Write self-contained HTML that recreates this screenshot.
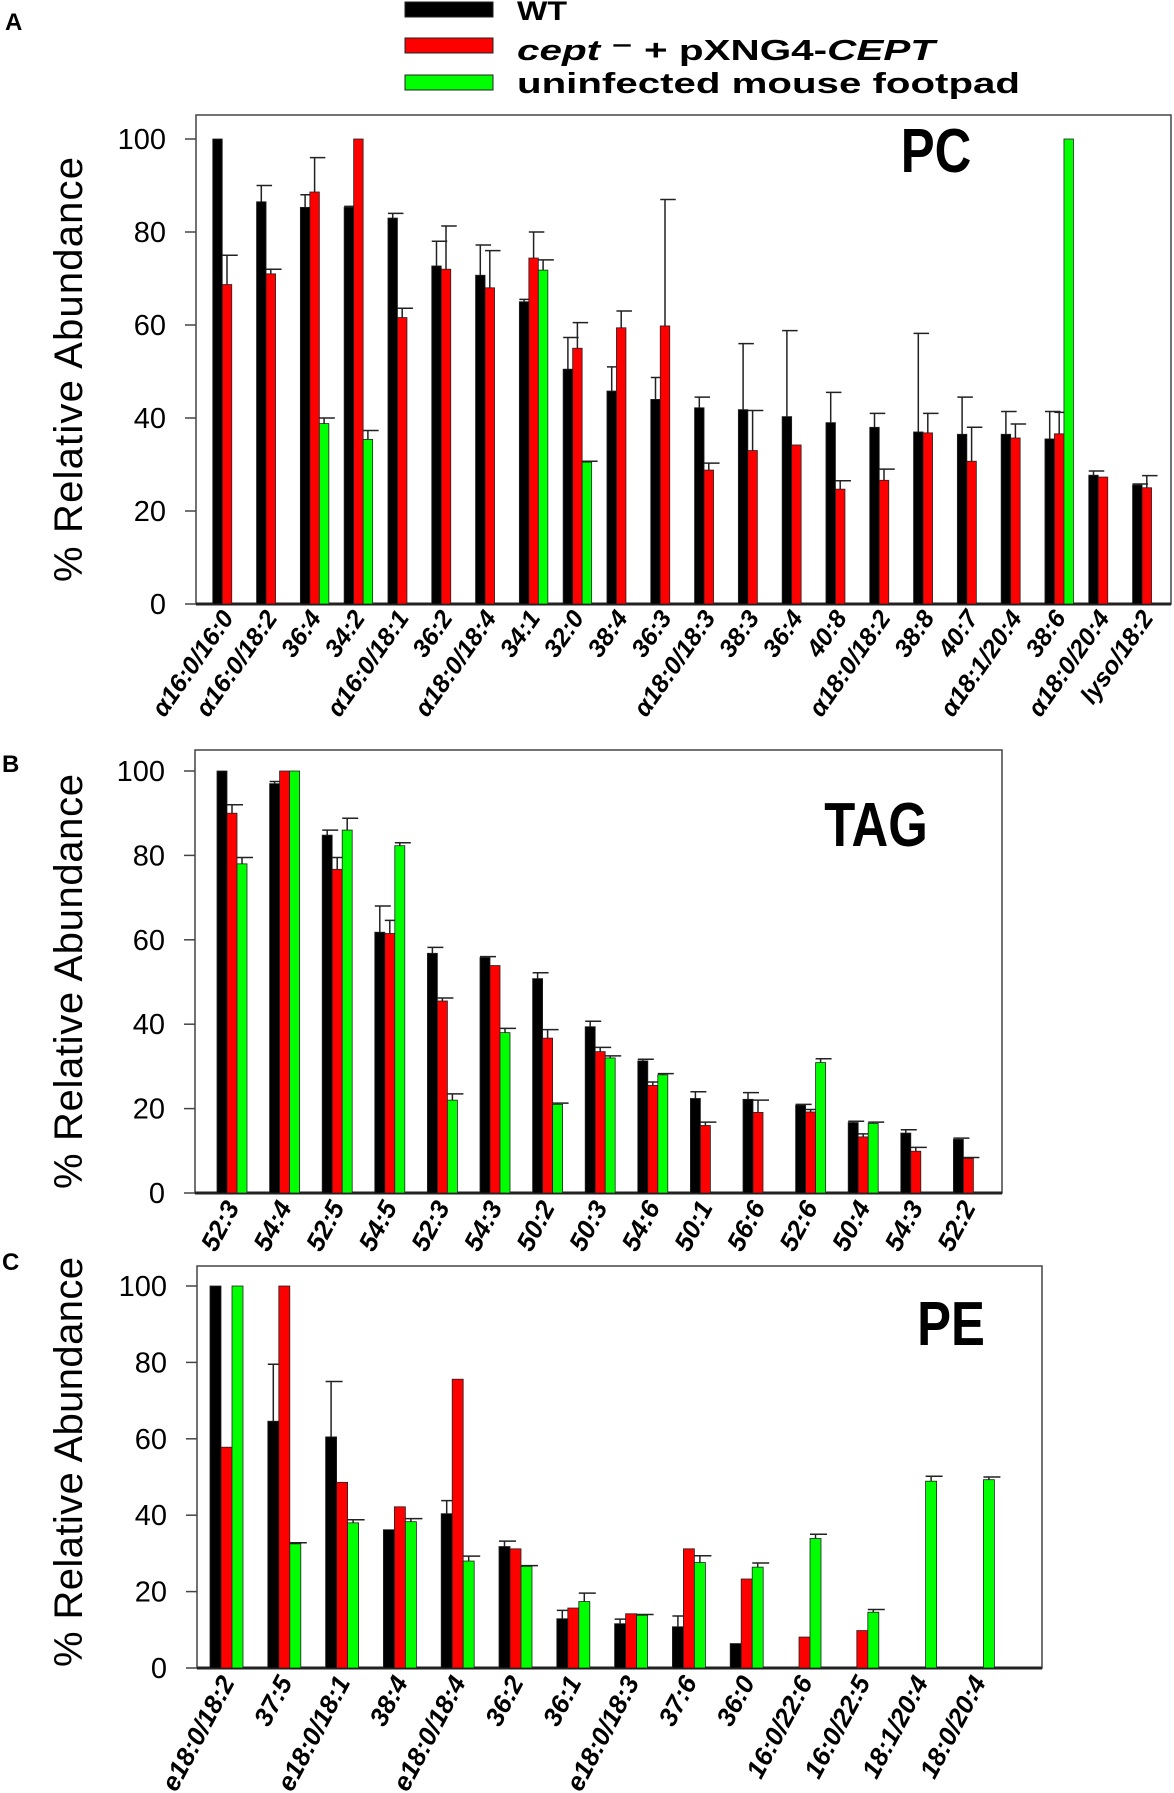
<!DOCTYPE html>
<html><head><meta charset="utf-8"><style>
html,body{margin:0;padding:0;background:#fff;}
svg{display:block;font-family:"Liberation Sans",sans-serif;}
</style></head><body>
<svg id="fig" width="1174" height="1793" viewBox="0 0 1174 1793" xmlns="http://www.w3.org/2000/svg">
<g>
<rect x="405" y="2" width="88" height="15" fill="#000" stroke="#222"/>
<text x="517" y="20" font-size="27" font-weight="bold" textLength="50" lengthAdjust="spacingAndGlyphs">WT</text>
<rect x="405" y="38" width="88" height="15" fill="#ff0000" stroke="#222"/>
<text x="517" y="60" font-size="29" font-weight="bold" textLength="418" lengthAdjust="spacingAndGlyphs"><tspan font-style="italic">cept</tspan> ⁻ + pXNG4-<tspan font-style="italic">CEPT</tspan></text>
<rect x="405" y="75" width="88" height="15" fill="#00ff00" stroke="#222"/>
<text x="517" y="93" font-size="29" font-weight="bold" textLength="503" lengthAdjust="spacingAndGlyphs">uninfected mouse footpad</text>
</g>
</svg>
<script>
const svgNS="http://www.w3.org/2000/svg";
const root=document.getElementById('fig');

// Panel A (PC)
const pcCategories=["α16:0/16:0","α16:0/18:2","36:4","34:2","α16:0/18:1","36:2","α18:0/18:4","34:1","32:0","38:4","36:3","α18:0/18:3","38:3","36:4","40:8","α18:0/18:2","38:8","40:7","α18:1/20:4","38:6","α18:0/20:4","lyso/18:2"];
const pcWT=[100,86.5,85.3,85.3,83,72.7,70.7,65,50.5,45.8,44,42.2,41.8,40.3,39,38,37,36.5,36.5,35.5,27.7,25.6];
const pcWTerr=[100,90,88,85.5,84,78,77.2,65.5,57.3,51,48.7,44.5,56,58.8,45.5,41,58.2,44.5,41.4,41.4,28.6,25.8];
const pcCept=[68.7,71,88.6,100,61.6,72,68,74.4,55,59.4,59.8,28.8,33,34.2,24.7,26.6,36.8,30.7,35.7,36.6,27.3,25];
const pcCepterr=[75,72,96,100,63.6,81.3,76,80,60.5,63,87,30.3,41.6,34.3,26.5,29,41,38,38.7,41.2,27.3,27.6];
const pcUninf=[null,null,38.8,35.4,null,null,null,71.8,30.5,null,null,null,null,null,null,null,null,null,null,100,null,null];
const pcUninferr=[null,null,40,37.3,null,null,null,74,30.7,null,null,null,null,null,null,null,null,null,null,100,null,null];

// Panel B (TAG)
const tagCategories=["52:3","54:4","52:5","54:5","52:3","54:3","50:2","50:3","54:6","50:1","56:6","52:6","50:4","54:3","52:2"];
const tagWT=[100,97,84.8,61.8,56.8,55.8,50.8,39.4,31.3,22.4,22.2,20.8,16.7,14.2,12.7];
const tagWTerr=[100,97.5,86,68,58.2,56,52.2,40.7,31.7,24,23.8,21,17,15,13];
const tagCept=[90,100,76.7,61.5,45.5,53.9,36.7,33.5,25.5,16,19.1,19.2,13.3,9.9,8.2];
const tagCepterr=[92,100,79.5,64.6,46.2,54,38.7,34.5,26.3,16.8,22,19.8,14,10.8,8.4];
const tagUninf=[78,100,86,82.3,22,38,21,32,28,null,null,30.9,16.5,null,null];
const tagUninferr=[79.5,100,88.8,83,23.5,39,21.3,32.5,28.3,null,null,31.8,16.8,null,null];

// Panel C (PE)
const peCategories=["e18:0/18:2","37:5","e18:0/18:1","38:4","e18:0/18:4","36:2","36:1","e18:0/18:3","37:6","36:0","16:0/22:6","16:0/22:5","18:1/20:4","18:0/20:4"];
const peWT=[100,64.6,60.5,36.2,40.4,31.8,12.9,11.6,10.8,6.4,null,null,null,null];
const peWTerr=[100,79.5,75,36.2,43.8,33.2,15.1,12.8,13.6,6.4,null,null,null,null];
const peCept=[57.8,100,48.6,42.2,75.6,31.2,15.7,14.2,31.2,23.3,8.1,9.8,null,null];
const peCepterr=[57.8,100,48.6,42.2,75.6,31.2,15.7,14.2,31.2,23.3,8.1,9.8,null,null];
const peUninf=[100,32.5,38,38.3,28,26.6,17.4,13.8,27.6,26.4,33.9,14.6,48.9,49.3];
const peUninferr=[100,32.8,38.8,39.1,29.3,26.8,19.6,14,29.4,27.5,35,15.3,50.2,50];

const yTicks=[0,20,40,60,80,100];
const colors=["#000000","#ff0000","#00ff00"];
const seriesNames=["wt","cept","uninfected"];

function el(tag,attrs,parent){const e=document.createElementNS(svgNS,tag);for(const k in attrs)e.setAttribute(k,attrs[k]);(parent||root).appendChild(e);return e;}

function panel(cfg){
  const g=el('g',{});
  
  
  const yScale=v=>cfg.y0+(cfg.y100-cfg.y0)*v/100;
  const xCenter=i=>cfg.firstX+cfg.step*i;
  const frame=el('rect',{x:cfg.left,y:cfg.top,width:cfg.right-cfg.left,height:cfg.y0-cfg.top,fill:'none',stroke:'#444','stroke-width':1.5},g);
  
  
  const ax=el('line',{x1:cfg.left,x2:cfg.right,y1:cfg.y0,y2:cfg.y0,stroke:'#222','stroke-width':3},g);
  
  
  yTicks.forEach(t=>{
    const y=yScale(t);
    const tk=el('line',{x1:cfg.left-11,x2:cfg.left,y1:y,y2:y,stroke:'#444','stroke-width':1.5},g);
    
    
    const tl=el('text',{x:cfg.left-30,y:y+10,'font-size':29,'text-anchor':'end'},g);
    tl.textContent=t;
    
    
  });
  const yt=el('text',{x:0,y:0,'font-size':40,'text-anchor':'middle',textLength:cfg.titleLen,transform:`translate(${cfg.titleX},${(cfg.y0+cfg.top)/2+cfg.titleDY}) rotate(-90)`},g);
  yt.textContent='% Relative Abundance';
  
  
  const pl=el('text',{x:cfg.panelLX,y:cfg.panelLY,'font-size':24,'font-weight':'bold'},g);
  pl.textContent=cfg.letter;
  
  
  const ct=el('text',{x:0,y:0,'font-size':62,'font-weight':'bold','text-anchor':'middle',transform:`translate(${cfg.ctX},${cfg.ctY}) scale(0.82,1)`},g);
  ct.textContent=cfg.classLabel;
  
  
  const series=[[cfg.wt,cfg.wtE],[cfg.ce,cfg.ceE],[cfg.un,cfg.unE]];
  cfg.cats.forEach((c,i)=>{
    const cx=xCenter(i);
    series.forEach((s,k)=>{
      const v=s[0][i]; if(v==null) return;
      const bx=cx+(k-1)*cfg.bw-cfg.bw/2;
      const yv=yScale(v);
      const b=el('rect',{x:bx,y:yv,width:cfg.bw,height:cfg.y0-yv,fill:colors[k],stroke:'#222','stroke-width':0.8},g);
      
      
      const e=s[1][i];
      if(e!=null && e>v+0.15){
        const ye=yScale(e), mx=bx+cfg.bw/2;
        const eb=el('path',{d:`M${mx},${yv}V${ye}M${bx},${ye}H${bx+cfg.bw+6}`,stroke:'#222','stroke-width':1.5,fill:'none'},g);
        
        
      }
    });
    const lx=cx+cfg.bw*0.8, ly=cfg.y0+14;
    const lb=el('text',{x:0,y:0,'font-size':cfg.lfs,'font-weight':'bold','font-style':'italic','text-anchor':'end',transform:`translate(${lx},${ly}) rotate(${cfg.angle})`},g);
    lb.textContent=c;
    
    
  });
}

panel({name:'pc-panel',letter:'A',classLabel:'PC',cats:pcCategories,wt:pcWT,wtE:pcWTerr,ce:pcCept,ceE:pcCepterr,un:pcUninf,unE:pcUninferr,
  left:196,right:1171,top:115,y0:604,y100:139,firstX:227,step:43.8,bw:9.5,titleX:82,titleDY:10,titleLen:425,
  panelLX:5,panelLY:30,ctX:936,ctY:172,angle:-55,lfs:25});
panel({name:'tag-panel',letter:'B',classLabel:'TAG',cats:tagCategories,wt:tagWT,wtE:tagWTerr,ce:tagCept,ceE:tagCepterr,un:tagUninf,unE:tagUninferr,
  left:195,right:1002,top:750,y0:1193,y100:771,firstX:232,step:52.6,bw:10,titleX:82,titleDY:10,titleLen:415,
  panelLX:2,panelLY:772,ctX:876,ctY:846,angle:-62,lfs:26});
panel({name:'pe-panel',letter:'C',classLabel:'PE',cats:peCategories,wt:peWT,wtE:peWTerr,ce:peCept,ceE:peCepterr,un:peUninf,unE:peUninferr,
  left:197,right:1042,top:1266,y0:1668,y100:1286,firstX:226.5,step:57.8,bw:11,titleX:82,titleDY:-5,titleLen:410,
  panelLX:2,panelLY:1270,ctX:951,ctY:1345,angle:-62,lfs:26});
</script>
</body></html>
